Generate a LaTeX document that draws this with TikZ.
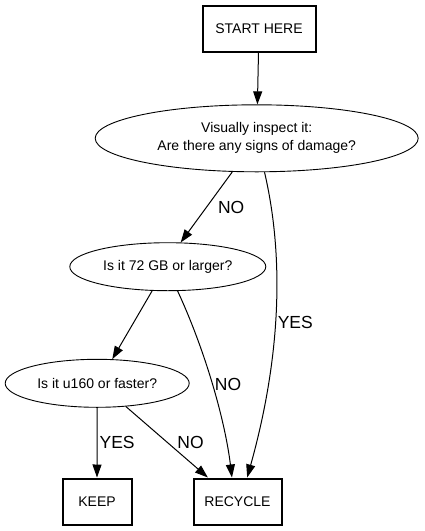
\documentclass[tikz,border=0pt]{standalone}
\usepackage{fontspec}
\setmainfont{Liberation Sans}
\usetikzlibrary{arrows.meta,positioning,shapes.geometric}

\begin{document}
\begin{tikzpicture}[x=1pt, y=1pt,
  termbox/.style={draw, rectangle, line width=2pt, inner sep=0pt,
                  minimum height=46pt, font=\fontsize{14}{18}\selectfont},
  question/.style={draw, ellipse, line width=0.9pt, inner sep=0pt,
                   align=center, font=\fontsize{14}{18}\selectfont},
  arr/.style={-{Triangle[length=13pt, width=9pt]}, line width=1pt},
  lbl/.style={font=\fontsize{17.5}{20}\selectfont, inner sep=0pt},
]
  \useasboundingbox (0,0) rectangle (424,-531);

  %% Start and end boxes
  \node[termbox, minimum width=113pt] (start) at (259,-28.5) {START HERE};
  \node[termbox, minimum width=69pt] (keep) at (97,-501.5) {KEEP};
  \node[termbox, minimum width=88pt] (recycle) at (237.5,-501.5) {RECYCLE};

  %% Questions
  \node[question, minimum width=323pt, minimum height=67pt] (inspect)
    at (256.7,-138.3) {Visually inspect it:\\Are there any signs of damage?};
  \node[question, minimum width=196pt, minimum height=48pt] (size)
    at (167.8,-266.7) {Is it 72 GB or larger?};
  \node[question, minimum width=184pt, minimum height=48pt] (speed)
    at (97.2,-383.3) {Is it u160 or faster?};

  %% Connectors
  \draw[arr] (start) -- (inspect);
  \draw[arr] (inspect.234) -- (size.62)
    node[lbl, midway, right=11pt] {NO};
  \draw[arr] (inspect.283) .. controls (285,-260) and (280,-360) .. (recycle.68)
    node[lbl, pos=0.53, right=2pt] {YES};
  \draw[arr] (size.237) -- (speed.58);
  \draw[arr] (size.292) .. controls (205,-350) and (225,-420) .. (recycle.103)
    node[lbl, pos=0.5, right=2pt] {NO};
  \draw[arr] (speed.south) -- (keep.north)
    node[lbl, midway, right=2pt] {YES};
  \draw[arr] (speed.321) -- (recycle.141)
    node[lbl, midway, right=10pt] {NO};
\end{tikzpicture}
\end{document}
